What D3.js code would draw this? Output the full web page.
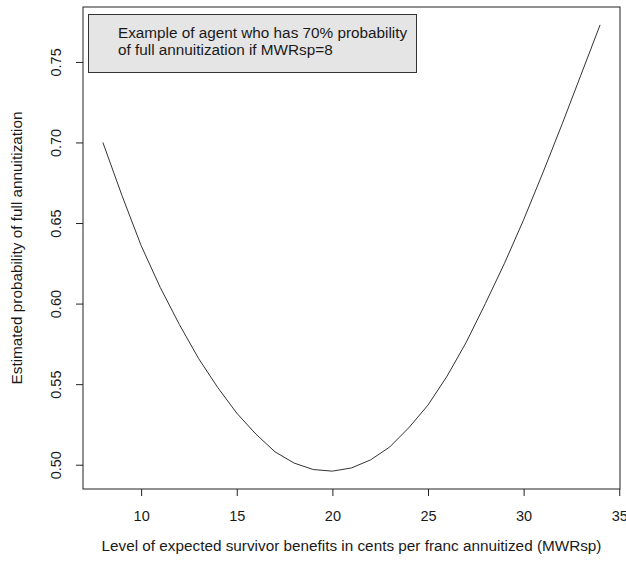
<!DOCTYPE html>
<html>
<head>
<meta charset="utf-8">
<script src="https://cdn.jsdelivr.net/npm/d3@7"></script>
<style>
  body { margin: 0; background: #fff; }
  text { font-family: "Liberation Sans", Arial, sans-serif; fill: #1a1a1a; }
</style>
</head>
<body>
<div id="chart"></div>
<script>
// MWRsp levels (cents per franc)
const mwrsp = [8, 9, 10, 11, 12, 13, 14, 15, 16, 17, 18, 19, 20, 21,
               22, 23, 24, 25, 26, 27, 28, 29, 30, 31, 32, 33, 34];
// estimated probability of full annuitization
const probFull = [0.700, 0.667, 0.636, 0.610, 0.587, 0.566, 0.548, 0.532,
                  0.519, 0.508, 0.501, 0.497, 0.496, 0.498, 0.503, 0.511,
                  0.523, 0.537, 0.555, 0.576, 0.600, 0.625, 0.652, 0.681,
                  0.711, 0.742, 0.773];
const xTicks = [10, 15, 20, 25, 30, 35];
const yTicks = [0.50, 0.55, 0.60, 0.65, 0.70, 0.75];
const legendLines = ["Example of agent who has 70% probability",
                     "of full annuitization if MWRsp=8"];

const width = 626, height = 563;
const box = { left: 83, right: 620, top: 7, bottom: 489 };

const svg = d3.select("#chart").append("svg")
  .attr("width", width)
  .attr("height", height);

// R style 4% padding on both ranges
const xr = d3.extent(mwrsp), yr = d3.extent(probFull);
const xPad = (xr[1] - xr[0]) * 0.04, yPad = (yr[1] - yr[0]) * 0.04;

const x = d3.scaleLinear()
  .domain([xr[0] - xPad, xr[1] + xPad])
  .range([box.left, box.right]);
const y = d3.scaleLinear()
  .domain([yr[0] - yPad, yr[1] + yPad])
  .range([box.bottom, box.top]);

// plot frame
svg.append("rect")
  .attr("x", box.left)
  .attr("y", box.top)
  .attr("width", box.right - box.left)
  .attr("height", box.bottom - box.top)
  .attr("fill", "none")
  .attr("stroke", "#222")
  .attr("stroke-width", 1);

// x axis (ticks only, no domain line)
const xAxis = svg.append("g")
  .attr("transform", "translate(0," + box.bottom + ")")
  .call(d3.axisBottom(x).tickValues(xTicks).tickSize(7).tickPadding(15)
          .tickFormat(d3.format("d")));
xAxis.select(".domain").remove();
xAxis.selectAll("line").attr("stroke", "#222");
xAxis.selectAll("text").style("font-size", "14.5px").attr("fill", "#1a1a1a")
  .style("font-family", "Liberation Sans, Arial, sans-serif");

// y axis with rotated labels
const yAxis = svg.append("g")
  .attr("transform", "translate(" + box.left + ",0)")
  .call(d3.axisLeft(y).tickValues(yTicks).tickSize(7)
          .tickFormat(d3.format(".2f")));
yAxis.select(".domain").remove();
yAxis.selectAll("line").attr("stroke", "#222");
yAxis.selectAll("text")
  .style("font-size", "14.5px")
  .style("font-family", "Liberation Sans, Arial, sans-serif")
  .attr("fill", "#1a1a1a")
  .attr("x", null).attr("dy", null)
  .attr("text-anchor", "middle")
  .attr("transform", "translate(-22,0) rotate(-90)");

// axis titles
svg.append("text")
  .attr("x", (box.left + box.right) / 2)
  .attr("y", 551)
  .attr("text-anchor", "middle")
  .style("font-size", "15.3px")
  .text("Level of expected survivor benefits in cents per franc annuitized (MWRsp)");

svg.append("text")
  .attr("transform", "translate(22," + (box.top + box.bottom) / 2 + ") rotate(-90)")
  .attr("text-anchor", "middle")
  .style("font-size", "15.3px")
  .text("Estimated probability of full annuitization");

// curve
const line = d3.line()
  .x(function(d, i) { return x(mwrsp[i]); })
  .y(function(d) { return y(d); });

svg.append("path")
  .datum(probFull)
  .attr("d", line)
  .attr("fill", "none")
  .attr("stroke", "#333")
  .attr("stroke-width", 1);

// legend box
const lg = svg.append("g");
lg.append("rect")
  .attr("x", 88.5)
  .attr("y", 14.5)
  .attr("width", 328)
  .attr("height", 58)
  .attr("fill", "#e5e5e5")
  .attr("stroke", "#333")
  .attr("stroke-width", 1);
lg.selectAll("text.lg")
  .data(legendLines)
  .enter().append("text")
  .attr("class", "lg")
  .attr("x", 118)
  .attr("y", function(d, i) { return 38 + i * 17; })
  .style("font-size", "15.3px")
  .text(function(d) { return d; });
</script>
</body>
</html>
